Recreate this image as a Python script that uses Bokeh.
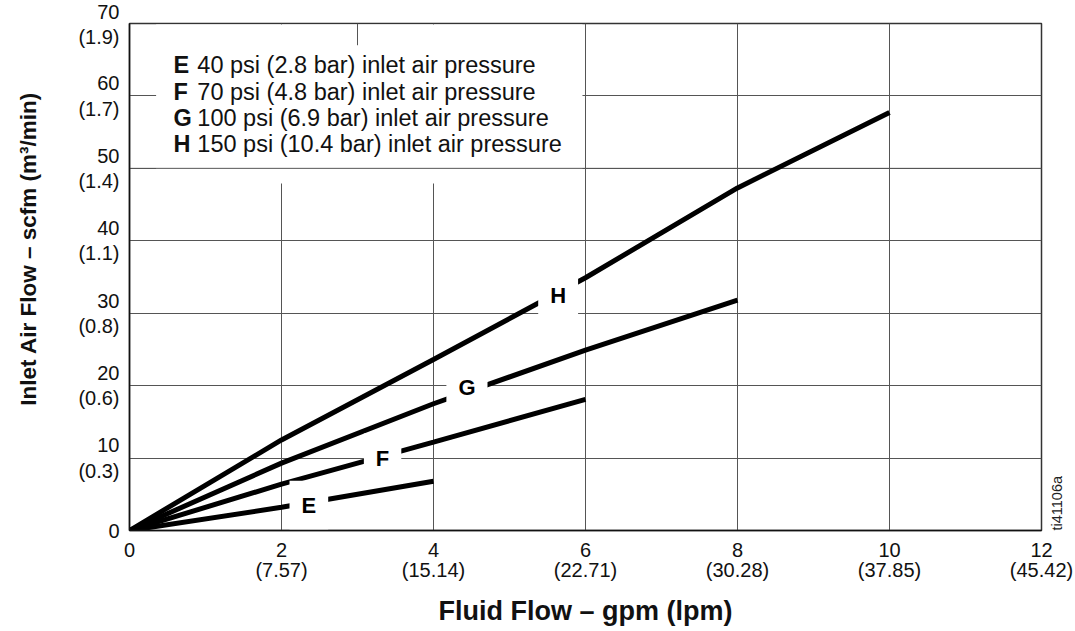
import math
from bokeh.plotting import figure
from bokeh.models import Range1d, FixedTicker, LinearAxis, ColumnDataSource
from bokeh.core.properties import value
from bokeh.embed import file_html
from bokeh.resources import INLINE

# ---- data ----
x_ticks = [0, 2, 4, 6, 8, 10, 12]
x_tick_labels = ["0", "2\n(7.57)", "4\n(15.14)", "6\n(22.71)", "8\n(30.28)", "10\n(37.85)", "12\n(45.42)"]
y_ticks = [0, 10, 20, 30, 40, 50, 60, 70]
y_tick_labels = ["0", "10\n(0.3)", "20\n(0.6)", "30\n(0.8)", "40\n(1.1)", "50\n(1.4)", "60\n(1.7)", "70\n(1.9)"]

series_letters = ["E", "F", "G", "H"]
series_desc = [
    "40 psi (2.8 bar) inlet air pressure",
    "70 psi (4.8 bar) inlet air pressure",
    "100 psi (6.9 bar) inlet air pressure",
    "150 psi (10.4 bar) inlet air pressure",
]
E_gpm = [0, 2, 4]
E_scfm = [0, 3.2, 6.8]
F_gpm = [0, 2, 4, 6]
F_scfm = [0, 6.4, 12.2, 18.1]
G_gpm = [0, 2, 4, 6, 8]
G_scfm = [0, 9.3, 17.5, 24.9, 31.8]
H_gpm = [0, 2, 4, 6, 8, 10]
H_scfm = [0, 12.5, 23.6, 34.9, 47.3, 57.7]

# curve label anchor points (gpm, scfm)
label_gpm = [2.36, 3.33, 4.44, 5.64]
label_scfm = [3.5, 10.0, 19.7, 32.5]

figure_id = "ti41106a"
figure_id_at = 0

SANS = "Liberation Sans"
GRID = "#555555"

p = figure(width=1075, height=631, output_backend="svg", toolbar_location=None,
           x_range=Range1d(0, 12), y_range=Range1d(0, 70),
           min_border_left=129, min_border_right=33, min_border_top=23, min_border_bottom=101)
p.background_fill_color = "white"
p.border_fill_color = "white"
p.outline_line_color = "#333333"
p.outline_line_width = 1.5

for ax, ticks, labels in ((p.xaxis, x_ticks, x_tick_labels), (p.yaxis, y_ticks, y_tick_labels)):
    ax.ticker = FixedTicker(ticks=ticks)
    ax.major_label_overrides = {t: l for t, l in zip(ticks, labels)}
    ax.major_tick_line_color = None
    ax.minor_tick_line_color = None
    ax.major_tick_out = 0
    ax.major_tick_in = 0
    ax.minor_tick_out = 0
    ax.minor_tick_in = 0
    ax.axis_line_color = "#111111"
    ax.axis_line_width = 1.5
    ax.major_label_text_font = SANS
    ax.major_label_text_font_size = "20px"
    ax.major_label_text_color = "#111111"
    ax.axis_label_text_font = SANS
    ax.axis_label_text_font_style = "bold"
    ax.axis_label_text_color = "#111111"

p.xaxis.axis_label = "Fluid Flow \u2013 gpm (lpm)"
p.xaxis.axis_label_text_font_size = "27px"
p.xaxis.major_label_text_line_height = 0.95
p.xaxis.major_label_standoff = 8
p.xaxis.axis_label_standoff = 12
p.yaxis.axis_label = "\u00a0" * 9 + "Inlet Air Flow \u2013 scfm (m\u00b3/min)"
p.yaxis.axis_label_text_font_size = "22.5px"
p.yaxis.major_label_text_line_height = 1.15
p.yaxis.major_label_standoff = 10
p.yaxis.axis_label_standoff = 34

for g in (p.xgrid, p.ygrid):
    g.grid_line_color = GRID
    g.grid_line_width = 1
p.xgrid.ticker = FixedTicker(ticks=x_ticks)
p.ygrid.ticker = FixedTicker(ticks=y_ticks)

# drawing id on the right edge
rax = LinearAxis(ticker=FixedTicker(ticks=[figure_id_at]),
                 major_label_overrides={figure_id_at: figure_id},
                 major_label_orientation=math.pi / 2,
                 axis_line_color=None, major_tick_line_color=None, minor_tick_line_color=None,
                 major_tick_out=0, major_tick_in=0, minor_tick_out=0, minor_tick_in=0,
                 major_label_standoff=15, major_label_text_font=SANS,
                 major_label_text_font_size="14.5px", major_label_text_color="#222222")
p.add_layout(rax, "right")

# legend panel (white box that hides the grid behind it)
p.quad(left=0.35, right=5.96, bottom=47.9, top=69.85, fill_color="white", line_color=None)
p.segment(x0=[0], y0=[50], x1=[12], y1=[50], line_color=GRID, line_width=1)
p.segment(x0=[3], y0=[67], x1=[3], y1=[70], line_color=GRID, line_width=1)

row_y = [64.3, 60.6, 56.9, 53.3]
p.text(x=[0.578] * 4, y=row_y, text=series_letters, text_font=value(SANS), text_font_style="bold",
       text_font_size="23.5px", text_baseline="middle", text_align="left", text_color="#111111")
p.text(x=[0.893] * 4, y=row_y, text=series_desc, text_font=value(SANS),
       text_font_size="23.5px", text_baseline="middle", text_align="left", text_color="#111111")

# curves
for xs, ys in ((E_gpm, E_scfm), (F_gpm, F_scfm), (G_gpm, G_scfm), (H_gpm, H_scfm)):
    p.line(xs, ys, line_color="black", line_width=5)

# curve letters, with white box that breaks the line
src = ColumnDataSource(dict(x=label_gpm, y=label_scfm, t=series_letters))
p.text(x="x", y="y", text="t", source=src, text_font=value(SANS), text_font_style="bold",
       text_font_size="22px", text_align="center", text_baseline="middle", text_color="black",
       background_fill_color="white", padding=12)

open("out.html", "w").write(file_html(p, INLINE))
